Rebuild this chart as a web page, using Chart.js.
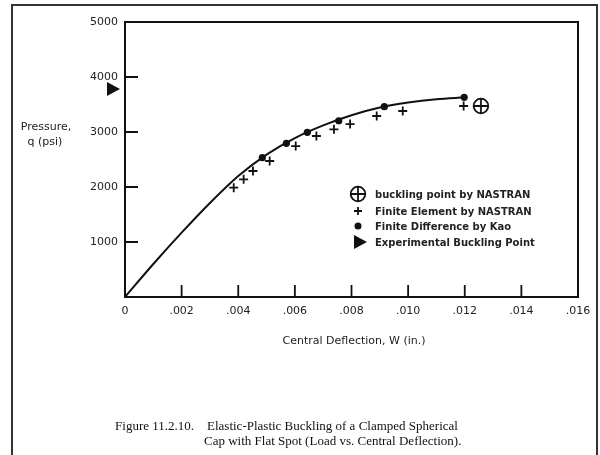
<!DOCTYPE html>
<html>
<head>
<meta charset="utf-8">
<script src="https://cdn.jsdelivr.net/npm/chart.js@4.4.0/dist/chart.umd.min.js"></script>
<style>
  html, body { margin: 0; padding: 0; background: #fff; }
  #wrap { width: 600px; height: 455px; }
</style>
</head>
<body>
<div id="wrap"><canvas id="capChart" width="600" height="455"></canvas></div>
<script>
// values (W in inches, q in psi)
const curveW = [0, 0.001, 0.002, 0.003, 0.004, 0.005, 0.006, 0.007, 0.008, 0.009, 0.010, 0.011, 0.012];
const curveQ = [0, 600, 1170, 1710, 2200, 2590, 2890, 3120, 3305, 3445, 3535, 3595, 3630];

const kaoW = [0.00485, 0.00570, 0.00644, 0.00755, 0.00916, 0.01198];
const kaoQ = [2533, 2795, 2995, 3205, 3460, 3631];

const femW = [0.00384, 0.00419, 0.00452, 0.00511, 0.00603, 0.00676, 0.00738, 0.00795, 0.00889, 0.00981, 0.01196];
const femQ = [1987, 2140, 2291, 2473, 2745, 2927, 3049, 3145, 3291, 3382, 3473];

const bucklingW = [0.01257];
const bucklingQ = [3473];

// experimental point is marked on the pressure axis, just left of it
const expW = [-0.00046];
const expQ = [3782];

const xTickLabels = ["0", ".002", ".004", ".006", ".008", ".010", ".012", ".014", ".016"];
const yTickLabels = ["", "1000", "2000", "3000", "4000", "5000"];

const legendLabels = [
  "buckling point by NASTRAN",
  "Finite Element by NASTRAN",
  "Finite Difference by Kao",
  "Experimental Buckling Point"
];

const ink = "#111";

function toPoints(xs, ys) {
  return xs.map((x, i) => ({ x: x, y: ys[i] }));
}

// circle with a plus inside, used as a point style
function makeCirclePlus() {
  const c = document.createElement("canvas");
  c.width = 18;
  c.height = 18;
  const g = c.getContext("2d");
  g.strokeStyle = ink;
  g.lineWidth = 1.8;
  g.beginPath();
  g.arc(9, 9, 7.3, 0, Math.PI * 2);
  g.moveTo(1.7, 9); g.lineTo(16.3, 9);
  g.moveTo(9, 1.7); g.lineTo(9, 16.3);
  g.stroke();
  return c;
}
const circlePlus = makeCirclePlus();

// filled triangle pointing right, centred on (x, y)
function drawArrowHead(ctx, x, y) {
  ctx.beginPath();
  ctx.moveTo(x - 5, y - 7);
  ctx.lineTo(x + 8, y);
  ctx.lineTo(x - 5, y + 7);
  ctx.closePath();
  ctx.fill();
}

Chart.defaults.font.family = "'DejaVu Sans', sans-serif";
Chart.defaults.color = "#222";

// frame, inward tick marks, legend, titles and caption
const paperPlugin = {
  id: "paper",
  afterDraw(chart) {
    const ctx = chart.ctx;
    const a = chart.chartArea;
    const xs = chart.scales.x;
    const ys = chart.scales.y;
    ctx.save();

    // outer page border
    ctx.strokeStyle = "#333";
    ctx.lineWidth = 2;
    ctx.beginPath();
    ctx.moveTo(12, 460); ctx.lineTo(12, 5); ctx.lineTo(597, 5); ctx.lineTo(597, 460);
    ctx.stroke();

    // plot frame
    ctx.strokeStyle = ink;
    ctx.lineWidth = 2;
    ctx.strokeRect(a.left, a.top, a.right - a.left, a.bottom - a.top);

    // tick marks pointing into the plot
    ctx.lineWidth = 1.8;
    ctx.beginPath();
    xs.ticks.forEach((t, i) => {
      if (i === 0 || i === xs.ticks.length - 1) return;
      const px = xs.getPixelForTick(i);
      ctx.moveTo(px, a.bottom); ctx.lineTo(px, a.bottom - 12);
    });
    ys.ticks.forEach((t, i) => {
      if (i === 0 || i === ys.ticks.length - 1) return;
      const py = ys.getPixelForTick(i);
      ctx.moveTo(a.left, py); ctx.lineTo(a.left + 13, py);
    });
    ctx.stroke();

    // experimental buckling point sits outside the plot, on the q axis
    ctx.fillStyle = ink;
    expW.forEach((w, i) => {
      drawArrowHead(ctx, xs.getPixelForValue(w), ys.getPixelForValue(expQ[i]));
    });

    // axis titles
    ctx.fillStyle = "#222";
    ctx.font = "11px 'DejaVu Sans', sans-serif";
    ctx.textAlign = "center";
    ctx.textBaseline = "middle";
    ctx.fillText("Pressure,", 46, 127);
    ctx.fillText("q (psi)", 45, 142);
    ctx.fillText("Central Deflection, W (in.)", 354, 341);

    // legend
    const lx = 358;
    const ly = [194, 211, 226, 242];
    ctx.drawImage(circlePlus, lx - 9, ly[0] - 9);
    ctx.strokeStyle = ink;
    ctx.lineWidth = 1.8;
    ctx.beginPath();
    ctx.moveTo(lx - 4, ly[1]); ctx.lineTo(lx + 4, ly[1]);
    ctx.moveTo(lx, ly[1] - 4); ctx.lineTo(lx, ly[1] + 4);
    ctx.stroke();
    ctx.fillStyle = ink;
    ctx.beginPath();
    ctx.arc(lx, ly[2], 3.5, 0, Math.PI * 2);
    ctx.fill();
    drawArrowHead(ctx, lx + 1, ly[3]);

    ctx.font = "bold 10px 'DejaVu Sans', sans-serif";
    ctx.textAlign = "left";
    ctx.fillStyle = "#222";
    legendLabels.forEach((s, i) => ctx.fillText(s, 375, ly[i] + 1));

    // figure caption
    ctx.font = "13px 'Liberation Serif', serif";
    ctx.fillStyle = "#111";
    ctx.textAlign = "right";
    ctx.fillText("Figure 11.2.10.", 194, 427);
    ctx.textAlign = "left";
    ctx.fillText("Elastic-Plastic Buckling of a Clamped Spherical", 207, 427);
    ctx.fillText("Cap with Flat Spot (Load vs. Central Deflection).", 204, 442);

    ctx.restore();
  }
};

const capChart = new Chart(document.getElementById("capChart"), {
  type: "scatter",
  data: {
    datasets: [
      {
        type: "line",
        label: "curve",
        data: toPoints(curveW, curveQ),
        borderColor: ink,
        borderWidth: 2,
        pointRadius: 0,
        cubicInterpolationMode: "monotone",
        fill: false
      },
      {
        label: "Finite Difference by Kao",
        data: toPoints(kaoW, kaoQ),
        pointStyle: "circle",
        pointRadius: 3.6,
        backgroundColor: ink,
        borderColor: ink,
        borderWidth: 0
      },
      {
        label: "Finite Element by NASTRAN",
        data: toPoints(femW, femQ),
        pointStyle: "cross",
        pointRadius: 4.5,
        borderColor: ink,
        borderWidth: 1.8
      },
      {
        label: "buckling point by NASTRAN",
        data: toPoints(bucklingW, bucklingQ),
        pointStyle: circlePlus
      }
    ]
  },
  options: {
    responsive: false,
    devicePixelRatio: 1,
    animation: false,
    layout: { padding: { left: 0, top: 22, right: 22, bottom: 118 } },
    plugins: {
      legend: { display: false },
      tooltip: { enabled: false }
    },
    scales: {
      x: {
        type: "linear",
        min: 0,
        max: 0.016,
        grid: { display: false, drawTicks: false },
        border: { display: false },
        ticks: {
          stepSize: 0.002,
          padding: 8,
          autoSkip: false,
          maxRotation: 0,
          font: { size: 11 },
          callback: (v, i) => xTickLabels[i]
        },
        afterFit: (s) => { s.height = 40; }
      },
      y: {
        type: "linear",
        min: 0,
        max: 5000,
        grid: { display: false, drawTicks: false },
        border: { display: false },
        ticks: {
          stepSize: 1000,
          padding: 7,
          font: { size: 11 },
          callback: (v, i) => yTickLabels[i]
        },
        afterFit: (s) => { s.width = 125; }
      }
    }
  },
  plugins: [paperPlugin]
});
</script>
</body>
</html>
